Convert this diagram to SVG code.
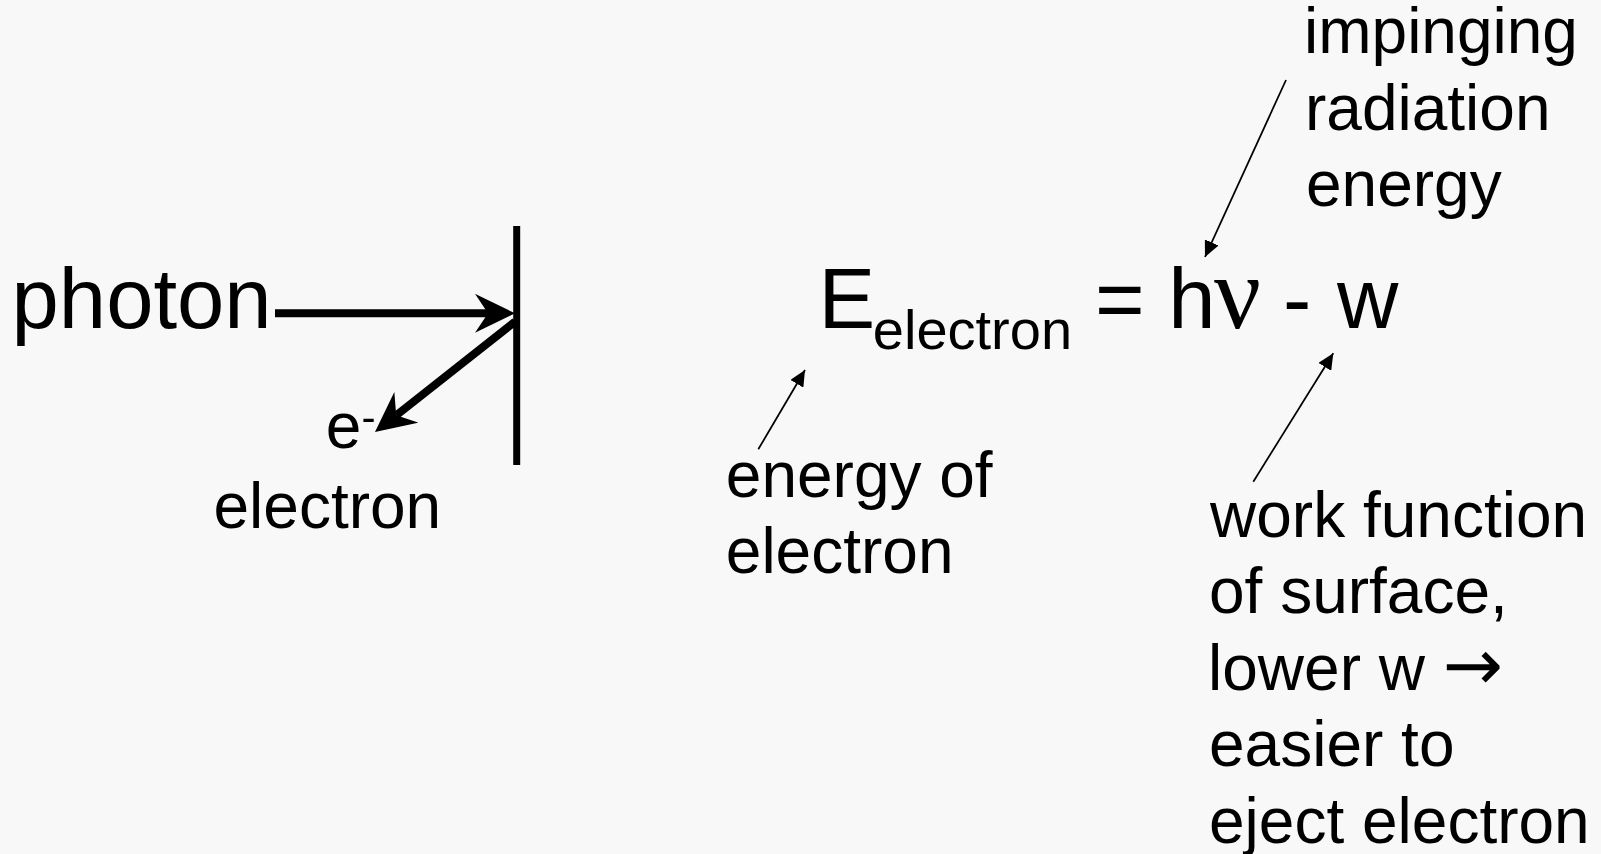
<svg xmlns="http://www.w3.org/2000/svg" width="1601" height="854" viewBox="0 0 1601 854">
  <style>
    .t { font-family: "Liberation Sans", Arial, sans-serif; fill: #000; }
    .big { font-size: 85px; }
    .mid { font-size: 64px; }
    .sub { font-size: 56px; }
    .nu { font-family: "Liberation Serif", "Times New Roman", serif; font-size: 104px; fill: #000; }
    .arr { font-family: "DejaVu Sans", sans-serif; font-size: 72px; }
    .thick { stroke: #000; stroke-width: 8; fill: none; }
    .thin { stroke: #000; stroke-width: 1.75; fill: none; marker-end: url(#tri); }
  </style>
  <defs>
    <marker id="stealth" markerUnits="userSpaceOnUse" viewBox="0 0 40 39" refX="13" refY="19.5" markerWidth="40" markerHeight="39" orient="auto">
      <path d="M0,0 L40,19.5 L0,39 L13,19.5 z" fill="#000"/>
    </marker>
    <marker id="tri" markerUnits="userSpaceOnUse" viewBox="0 0 16 15" refX="16" refY="7.5" markerWidth="16" markerHeight="15" orient="auto">
      <path d="M0,0 L16,7.5 L0,15 z" fill="#000"/>
    </marker>
  </defs>
  <rect width="1601" height="854" fill="#f8f8f8"/>

  <g id="photon">
    <text class="t big" x="11.6" y="328.3">photon</text>
  </g>
  <g id="surface">
    <line x1="516.7" y1="226" x2="516.7" y2="465" stroke="#000" stroke-width="7"/>
  </g>
  <g id="e-minus">
    <text class="t mid" x="325.8" y="448.3">e<tspan font-size="42" dy="-16">-</tspan></text>
  </g>
  <g id="electron-label">
    <text class="t mid" x="213.5" y="528.3">electron</text>
  </g>

  <g id="equation">
    <text class="t big" x="818.5" y="328.3">E</text>
    <text class="t sub" x="872.8" y="349.3">electron</text>
    <text class="t big" x="1095" y="328.3">= h</text>
    <text class="nu" x="1214" y="328.3">ν</text>
    <text class="t big" x="1283" y="328.3">-</text>
    <text class="t big" x="1337" y="328.3">w</text>
  </g>

  <g id="impinging-label">
    <text class="t mid" x="1304" y="53">impinging</text>
    <text class="t mid" x="1305" y="129.5">radiation</text>
    <text class="t mid" x="1306" y="206">energy</text>
  </g>

  <g id="energy-label">
    <text class="t mid" x="725.8" y="496.7">energy of</text>
    <text class="t mid" x="725.8" y="573.3">electron</text>
  </g>

  <g id="work-label">
    <text class="t mid" x="1210" y="536.7">work function</text>
    <text class="t mid" x="1209" y="613.2">of surface,</text>
    <text class="t mid" x="1208" y="689.7">lower w <tspan class="arr">→</tspan></text>
    <text class="t mid" x="1209" y="766.2">easier to</text>
    <text class="t mid" x="1209" y="842.7">eject electron</text>
  </g>

  <g id="connectors">
    <path class="thick" d="M275,313.3 L488,313.3" marker-end="url(#stealth)"/>
    <path class="thick" d="M515,321.7 L396.2,415.3" marker-end="url(#stealth)"/>
    <path class="thin" d="M1286,80 L1205,257"/>
    <path class="thin" d="M758.3,449.3 L805,370"/>
    <path class="thin" d="M1253.3,481.7 L1333.3,353.3"/>
  </g>
</svg>
